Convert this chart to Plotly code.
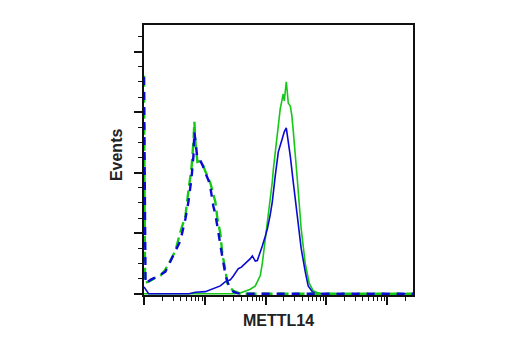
import plotly.graph_objects as go

# Fluorescence intensity (log scale) and event counts for each histogram
iso_blue_x = [1.00, 1.06, 1.28, 1.54, 1.87, 2.25, 2.72, 3.29, 3.97, 4.80, 5.38, 6.03, 6.50,
              6.75, 7.01, 7.56, 8.47, 9.14, 10.2, 11.5, 12.4, 13.8, 14.9, 16.1, 18.0, 19.5,
              21.8, 23.5, 26.3, 29.5, 34.3, 38.4, 26600]
iso_blue_y = [71.6, 3.3, 4.6, 5.3, 6.3, 7.3, 10.6, 14.2, 17.5, 24.8, 30.4, 38.0, 45.5,
              53.5, 50.2, 44.6, 43.9, 42.6, 40.0, 37.5, 35.0, 29.0, 26.4, 22.0, 15.5, 12.0,
              6.5, 4.0, 1.7, 0.7, 0.2, 0.0, 0.0]

iso_green_x = [1.00, 1.04, 1.28, 1.54, 1.87, 2.25, 2.72, 3.29, 3.97, 4.80, 5.38, 6.03, 6.50,
               6.75, 7.01, 7.56, 8.47, 9.14, 10.2, 11.5, 12.4, 14.9, 16.1, 18.0, 19.5, 21.8,
               23.5, 26.3, 29.5, 34.3, 38.4, 26600]
iso_green_y = [72.0, 3.6, 4.3, 5.3, 6.0, 8.0, 11.0, 14.2, 20.5, 25.7, 34.0, 41.3, 50.2,
               56.8, 50.0, 43.6, 43.9, 43.0, 40.5, 38.0, 36.5, 30.4, 25.0, 20.0, 13.0, 8.0,
               3.5, 2.0, 1.0, 0.5, 0.0, 0.0]

pos_blue_x = [1.00, 1.12, 1.19, 5.5, 7.0, 10.2, 12.4, 16.1, 18.0, 21.8, 24.4, 26.3, 29.5, 32,
              35.6, 40, 46.4, 52.0, 56.1, 60.5, 63, 67.8, 73.1, 81.8, 88.3, 98.9, 107, 119,
              129, 144, 162, 188, 203, 219, 236, 255, 285, 308, 332, 385, 449, 502, 585, 655,
              733, 26600]
pos_blue_y = [2.3, 0.7, 0.0, 0.0, 0.5, 0.7, 1.3, 2.3, 2.6, 4.0, 4.3, 4.6, 5.9, 7.0,
              8.3, 8.8, 10.0, 11.0, 11.6, 12.5, 12.0, 10.8, 11.0, 13.5, 15.8, 19.0, 21.5, 26.0,
              30.4, 38.9, 46.9, 51.2, 53.5, 54.8, 50.5, 45.5, 37.0, 31.0, 25.7, 15.0, 7.3, 2.6,
              0.7, 0.2, 0.0, 0.0]

pos_green_x = [1.00, 30, 38.4, 46.4, 56.1, 67.8, 73.1, 81.8, 88.3, 91.7, 98.9, 107, 119, 129,
               134, 156, 174, 188, 195, 203, 210, 219, 228, 236, 255, 270, 285, 308, 332, 385,
               449, 522, 607, 733, 850, 26600]
pos_green_y = [0.0, 0.0, 0.3, 0.8, 1.5, 2.6, 4.0, 6.0, 10.0, 12.5, 17.5, 23.0, 30.4, 37.0,
               41.0, 52.5, 61.1, 64.4, 66.0, 63.7, 66.0, 70.0, 66.5, 63.0, 62.0, 59.0, 54.0,
               47.0, 38.0, 21.5, 10.0, 3.5, 1.0, 0.3, 0.0, 0.0]

BLUE = "#0a0ad2"
GREEN = "#16c816"

fig = go.Figure()
fig.add_trace(go.Scatter(x=pos_green_x, y=pos_green_y, mode="lines",
                         line=dict(color=GREEN, width=1.6)))
fig.add_trace(go.Scatter(x=pos_blue_x, y=pos_blue_y, mode="lines",
                         line=dict(color=BLUE, width=1.6)))
fig.add_trace(go.Scatter(x=iso_green_x, y=iso_green_y, mode="lines",
                         line=dict(color=GREEN, width=2.4, dash="11px,5px")))
fig.add_trace(go.Scatter(x=iso_blue_x, y=iso_blue_y, mode="lines",
                         line=dict(color=BLUE, width=2.4, dash="8px,7px")))

title_font = dict(family="Liberation Sans, Arial, sans-serif", size=16, color="#222222")

fig.update_layout(
    width=520, height=350,
    margin=dict(l=143.5, r=107, t=25, b=55),
    paper_bgcolor="white", plot_bgcolor="white",
    showlegend=False,
    xaxis=dict(
        type="log", range=[0, 4.425], dtick=1, tick0=0,
        showticklabels=False, showgrid=False, zeroline=False,
        showline=True, linecolor="#111111", linewidth=1.6, mirror=True,
        ticks="outside", ticklen=8, tickwidth=2, tickcolor="#111111",
        minor=dict(ticks="outside", ticklen=4, tickwidth=1, tickcolor="#111111",
                   dtick="D1", showgrid=False),
        layer="below traces",
    ),
    yaxis=dict(
        range=[-0.4, 88.8], dtick=20, tick0=0,
        showticklabels=False, showgrid=False, zeroline=False,
        showline=True, linecolor="#111111", linewidth=1.6, mirror=True,
        ticks="outside", ticklen=8, tickwidth=2, tickcolor="#111111",
        minor=dict(ticks="outside", ticklen=4, tickwidth=1, tickcolor="#111111",
                   dtick=5, showgrid=False),
        layer="below traces",
    ),
    annotations=[
        dict(text="<b>Events</b>", xref="paper", yref="paper", x=0, y=0.52,
             xanchor="center", yanchor="middle", xshift=-27.5, textangle=-90,
             showarrow=False, font=title_font),
        dict(text="<b>METTL14</b>", xref="paper", yref="paper", x=0.5, y=0,
             xanchor="center", yanchor="top", yshift=-15,
             showarrow=False, font=title_font),
    ],
)

fig.write_html("out.html")
